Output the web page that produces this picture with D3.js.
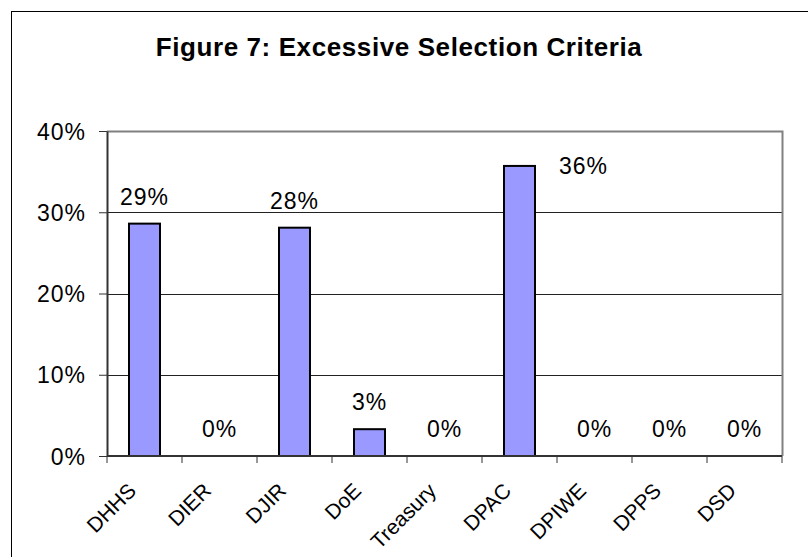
<!DOCTYPE html>
<html><head><meta charset="utf-8">
<script src="https://cdn.jsdelivr.net/npm/d3@7"></script>
<style>body{margin:0;background:#fff}svg{display:block}</style>
</head><body>
<script>
const categories = ["DHHS","DIER","DJIR","DoE","Treasury","DPAC","DPIWE","DPPS","DSD"];
const values = [0.286, 0, 0.281, 0.033, 0, 0.357, 0, 0, 0];
const yTicks = [0, 0.1, 0.2, 0.3, 0.4];
const title = "Figure 7: Excessive Selection Criteria";

const W = 808, H = 557;
const m = {left:107, right:782, top:131, bottom:456};
const svg = d3.select("body").append("svg").attr("width",W).attr("height",H);
const font = "'Liberation Sans', Arial, sans-serif";

svg.append("rect").attr("x",11.5).attr("y",11.5).attr("width",W).attr("height",H)
  .attr("fill","#fff").attr("stroke","#000").attr("stroke-width",1);

svg.append("text").attr("x",399).attr("y",56).attr("text-anchor","middle")
  .attr("font-family",font).attr("font-weight","bold").attr("font-size",26)
  .attr("letter-spacing",0.6).text(title);

const x = d3.scaleBand().domain(categories).range([m.left,m.right]);
const y = d3.scaleLinear().domain([0,0.4]).range([m.bottom,m.top]);

// gridlines
svg.append("g").selectAll("line").data(yTicks.filter(d=>d>0 && d<0.4)).join("line")
  .attr("x1",m.left).attr("x2",m.right).attr("y1",d=>Math.round(y(d))+0.5).attr("y2",d=>Math.round(y(d))+0.5)
  .attr("stroke","#222").attr("stroke-width",1);
// plot border (top/right gray)
svg.append("path").attr("d",`M${m.left},${m.top+0.5}H${m.right+0.5}V${m.bottom}`)
  .attr("fill","none").attr("stroke","#808080").attr("stroke-width",2);

// bars
const bw = 31;
svg.append("g").selectAll("rect")
  .data(categories.map((c,i)=>({c,v:values[i]})).filter(d=>d.v>0)).join("rect")
  .attr("x",d=>x(d.c)+x.bandwidth()/2-bw/2).attr("width",bw)
  .attr("y",d=>y(d.v)).attr("height",d=>y(0)-y(d.v))
  .attr("fill","#9999ff").attr("stroke","#000").attr("stroke-width",2);

// y axis
const ya = d3.axisLeft(y).tickValues(yTicks).tickFormat(d3.format(".0%")).tickSize(8).tickSizeOuter(0);
const gy = svg.append("g").attr("transform",`translate(${m.left},0)`).call(ya);
gy.select(".domain").attr("stroke","#333").attr("stroke-width",2);
gy.selectAll(".tick line").attr("stroke","#333");
gy.selectAll("text").attr("font-family",font).attr("font-size",23).attr("letter-spacing",1)
  .attr("fill","#000").attr("x",-21).attr("dy","0.35em");

// x axis
const gx = svg.append("g").attr("transform",`translate(0,${m.bottom})`);
gx.append("line").attr("x1",m.left).attr("x2",m.right).attr("y1",0).attr("y2",0).attr("stroke","#333").attr("stroke-width",2);
const tickPos = categories.map(c=>x(c)).concat([m.right]);
gx.selectAll("line.t").data(tickPos).join("line").attr("class","t")
  .attr("x1",d=>d).attr("x2",d=>d).attr("y1",0).attr("y2",7).attr("stroke","#333");
gx.selectAll("text").data(categories).join("text")
  .attr("transform",d=>`translate(${x(d)+x.bandwidth()/2-7},${36}) rotate(-45)`)
  .attr("text-anchor","end").attr("font-family",font).attr("font-size",21).text(d=>d);

// data labels
const fmt = d3.format(".0%");
svg.append("g").selectAll("text").data(categories.map((c,i)=>({c,v:values[i]}))).join("text")
  .attr("x",d=>x(d.c)+x.bandwidth()/2 + (d.v>0.35 ? 64 : 0))
  .attr("y",d=>d.v>0.35 ? y(d.v)+8 : y(d.v)-19)
  .attr("text-anchor","middle").attr("font-family",font).attr("font-size",23).attr("letter-spacing",1)
  .text(d=>fmt(d.v));
</script>
</body></html>
